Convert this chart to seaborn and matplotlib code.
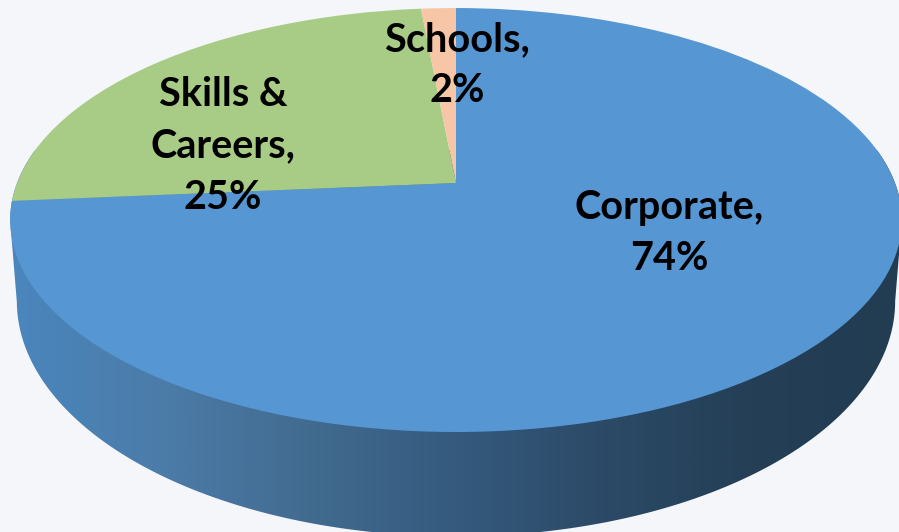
import numpy as np
import matplotlib
matplotlib.use("Agg")
import matplotlib.pyplot as plt
from matplotlib.patches import Polygon
from matplotlib.transforms import Transform
import seaborn as sns

# datos (Schools mide ~1.5 aunque la etiqueta dice 2%)
categories = ["Corporate", "Skills &\nCareers", "Schools"]
values = [74, 25, 1.5]
percent_labels = ["74%", "25%", "2%"]
slice_colors = ["#5696d3", "#a8cc86", "#f6c6a6"]
wall_colors = ["#4a86bd", "#4c7ca9", "#426b90", "#355a7e", "#2c4a67", "#243f56", "#223c52"]

sns.set_theme(style="white")
plt.rcParams["font.family"] = ["Lato", "DejaVu Sans"]

BG = "#f4f6fa"
CX, CY = 456, 183     # vertice del pie en pixeles
RX, RY = 439, 205.5
K = 0.1746            # perspectiva


# circulo unidad -> elipse en perspectiva (pixeles de la imagen)
class PieProjection(Transform):
    input_dims = 2
    output_dims = 2

    def __init__(self, sx=1.0, sy=1.0, dy=0.0):
        super().__init__()
        self.sx = sx
        self.sy = sy
        self.dy = dy

    def transform_non_affine(self, pts):
        pts = np.asarray(pts, dtype=float)
        w = 1 + K * pts[:, 1]
        x = CX + self.sx * RX * pts[:, 0] / w
        y = CY + self.dy - self.sy * RY * pts[:, 1] / w
        return np.column_stack([x, y])


fig, ax = plt.subplots(figsize=(8.99, 5.32), dpi=100)
fig.patch.set_facecolor(BG)
ax.set_position([0, 0, 1, 1])

wedges, _ = ax.pie(values, colors=slice_colors, startangle=90, counterclock=False)
ax.set_aspect("auto")
ax.axis("off")

top = PieProjection()
for wedge in wedges:
    wedge.set_transform(top + ax.transData)
    wedge.set_zorder(3)
    wedge.set_linewidth(0)

# pared lateral: mitad superior de la tapa + mitad inferior de la base
theta = np.linspace(0, 2 * np.pi, 720)
circle = np.column_stack([np.cos(theta), np.sin(theta)])
upper = top.transform(circle)
lower = PieProjection(sx=0.985, sy=1.11, dy=77).transform(circle)
left_i, right_i = np.argmin(upper[:, 0]), np.argmax(upper[:, 0])
low_left, low_right = np.argmin(lower[:, 0]), np.argmax(lower[:, 0])
outline = np.vstack([upper[right_i:], upper[:left_i + 1], lower[low_left:low_right + 1]])
clip = Polygon(outline, closed=True, transform=ax.transData, facecolor="none", edgecolor="none")
ax.add_patch(clip)

cmap = sns.blend_palette(wall_colors, as_cmap=True)
gradient = np.linspace(0, 1, 512).reshape(1, -1)
img = ax.imshow(gradient, cmap=cmap, extent=(10, 900, 545, 150), aspect="auto", zorder=2)
img.set_clip_path(clip)
ax.set_xlim(0, 899)
ax.set_ylim(532, 0)

# etiquetas
label_pos = [(669, 233), (223, 146), (457, 65)]
for name, pct, (x, y) in zip(categories, percent_labels, label_pos):
    ax.text(x, y, f"{name},\n{pct}", ha="center", va="center", fontsize=28.5,
            fontweight="bold", color="black", linespacing=1.47, zorder=5)

fig.savefig("out.png", dpi=100, facecolor=BG)
